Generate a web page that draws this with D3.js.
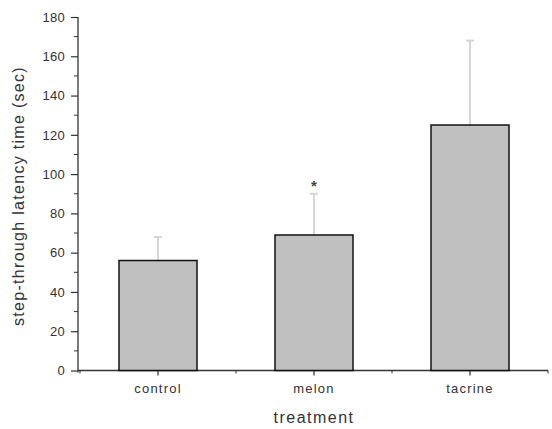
<!DOCTYPE html>
<html>
<head>
<meta charset="utf-8">
<script src="https://cdn.jsdelivr.net/npm/d3@7"></script>
<style>
  body { margin: 0; background: #fff; }
  text { font-family: Arial, "Liberation Sans", sans-serif; }
</style>
</head>
<body>
<div class="canvas"></div>
<script>
// chart data
const treatments = ['control', 'melon', 'tacrine'];
const latency = [56, 69, 125];
const errUpper = [68, 90, 168];
const markers = ['', '*', ''];
const yTicks = [0, 20, 40, 60, 80, 100, 120, 140, 160, 180];

const width = 552, height = 429;
const mLeft = 78, mRight = 548, mTop = 17, mBottom = 370.5;

const svg = d3.select('.canvas').append('svg')
    .attr('width', width)
    .attr('height', height);

const x = d3.scaleBand()
    .domain(treatments)
    .range([mLeft + 2, mRight])
    .paddingInner(0.5)
    .paddingOuter(0.25);

const y = d3.scaleLinear()
    .domain([0, 180])
    .range([mBottom, mTop]);

// minor ticks on y
const yMinor = d3.range(10, 180, 20);
svg.append('g')
    .attr('transform', `translate(${mLeft},0)`)
    .selectAll('line')
    .data(yMinor)
    .join('line')
    .attr('x1', -4).attr('x2', 0)
    .attr('y1', d => y(d)).attr('y2', d => y(d))
    .attr('stroke', '#333').attr('stroke-width', 1);

const yAxis = svg.append('g')
    .attr('transform', `translate(${mLeft},0)`)
    .call(d3.axisLeft(y).tickValues(yTicks).tickSize(7).tickPadding(6).tickSizeOuter(0));
yAxis.select('.domain').attr('stroke', '#333').attr('stroke-width', 1.3)
    .attr('d', `M0,${mTop}V${mBottom + 2}`);
yAxis.selectAll('.tick line').attr('stroke', '#333').attr('stroke-width', 1.2);
yAxis.selectAll('.tick text').attr('fill', '#333').attr('font-size', 13)
    .attr('letter-spacing', 0.3);

// x axis
const xAxis = svg.append('g')
    .attr('transform', `translate(0,${mBottom})`)
    .call(d3.axisBottom(x).tickSize(5).tickPadding(8).tickSizeOuter(0));
xAxis.select('.domain').attr('stroke', '#333').attr('stroke-width', 1.3)
    .attr('d', `M${mLeft},0H${mRight}`);
xAxis.selectAll('.tick line').attr('stroke', '#333').attr('stroke-width', 1.2);
xAxis.selectAll('.tick text').attr('fill', '#333').attr('font-size', 13)
    .attr('letter-spacing', 1.2);

// minor ticks on x between categories
const step = x.step();
const bounds = treatments.map(t => x(t) + x.bandwidth() / 2 + step / 2);
bounds.unshift(x(treatments[0]) + x.bandwidth() / 2 - step / 2);
svg.append('g')
    .selectAll('line')
    .data(bounds)
    .join('line')
    .attr('x1', d => d).attr('x2', d => d)
    .attr('y1', mBottom).attr('y2', mBottom + 3)
    .attr('stroke', '#333').attr('stroke-width', 1);

// error bars (upper only)
const eb = svg.append('g');
treatments.forEach((t, i) => {
    const cx = x(t) + x.bandwidth() / 2;
    eb.append('line')
        .attr('x1', cx).attr('x2', cx)
        .attr('y1', y(latency[i])).attr('y2', y(errUpper[i]))
        .attr('stroke', '#d6d6d6').attr('stroke-width', 2);
    eb.append('line')
        .attr('x1', cx - 4).attr('x2', cx + 4)
        .attr('y1', y(errUpper[i])).attr('y2', y(errUpper[i]))
        .attr('stroke', '#d6d6d6').attr('stroke-width', 2);
    if (markers[i]) {
        eb.append('text')
            .attr('x', cx).attr('y', y(errUpper[i]) - 3)
            .attr('text-anchor', 'middle')
            .attr('font-size', 15)
            .attr('font-weight', 'bold')
            .attr('fill', '#444')
            .text(markers[i]);
    }
});

// bars
svg.append('g')
    .selectAll('rect')
    .data(latency)
    .join('rect')
    .attr('x', (d, i) => x(treatments[i]))
    .attr('y', d => y(d))
    .attr('width', x.bandwidth())
    .attr('height', d => y(0) - y(d))
    .attr('fill', '#c0c0c0')
    .attr('stroke', '#111')
    .attr('stroke-width', 1.5);

// axis titles
svg.append('text')
    .attr('x', 314).attr('y', 423)
    .attr('text-anchor', 'middle')
    .attr('font-size', 16)
    .attr('letter-spacing', 1.5)
    .attr('fill', '#333')
    .text('treatment');

svg.append('text')
    .attr('transform', `translate(24,196) rotate(-90)`)
    .attr('text-anchor', 'middle')
    .attr('font-size', 16)
    .attr('letter-spacing', 1.3)
    .attr('fill', '#333')
    .text('step-through latency time (sec)');
</script>
</body>
</html>
